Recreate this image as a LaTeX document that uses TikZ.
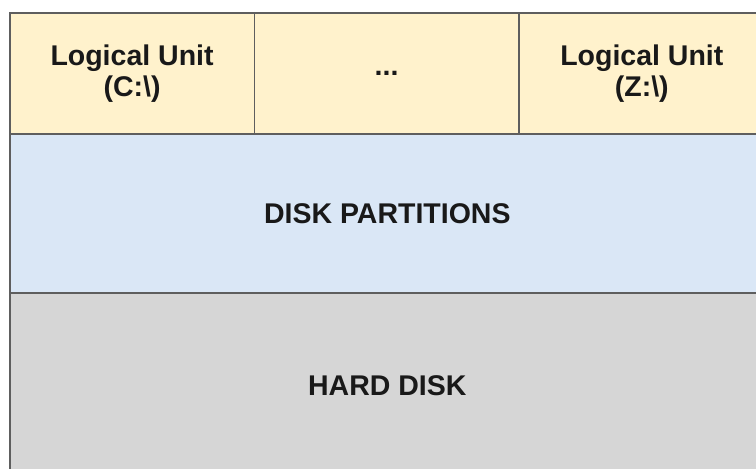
\documentclass[tikz,border=0pt]{standalone}
\usepackage{fontspec}
\setmainfont{Liberation Sans}
\definecolor{lunit}{HTML}{FFF2CC}
\definecolor{part}{HTML}{DAE7F6}
\definecolor{hdisk}{HTML}{D6D6D6}
\definecolor{edge}{HTML}{5E5E5E}
\begin{document}
\begin{tikzpicture}[x=1pt,y=1pt,
  cell/.style={draw=edge, line width=1.6pt, rectangle, anchor=north west,
    inner sep=0pt, align=center,
    font=\fontsize{28.5}{31}\selectfont\bfseries, text=black!90}]
\useasboundingbox (0,0) rectangle (756,469);
\clip (0,0) rectangle (756,469);
\fill[white] (0,0) rectangle (756,469);
\node[cell, fill=hdisk, minimum width=755pt, minimum height=184pt] (hd) at (9,176.5) {HARD DISK};
\node[cell, fill=part, minimum width=755pt, minimum height=159pt] (dp) at (9,335.5) {DISK PARTITIONS};
\node[cell, fill=lunit, minimum width=244.5pt, minimum height=121.5pt] (lc) at (9,457) {Logical Unit\\(C:\textbackslash)};
\node[cell, fill=lunit, minimum width=264.5pt, minimum height=121.5pt] (dots) at (253.5,457) {...};
\node[cell, fill=lunit, minimum width=246pt, minimum height=121.5pt] (lz) at (518,457) {Logical Unit\\(Z:\textbackslash)};
\end{tikzpicture}
\end{document}
